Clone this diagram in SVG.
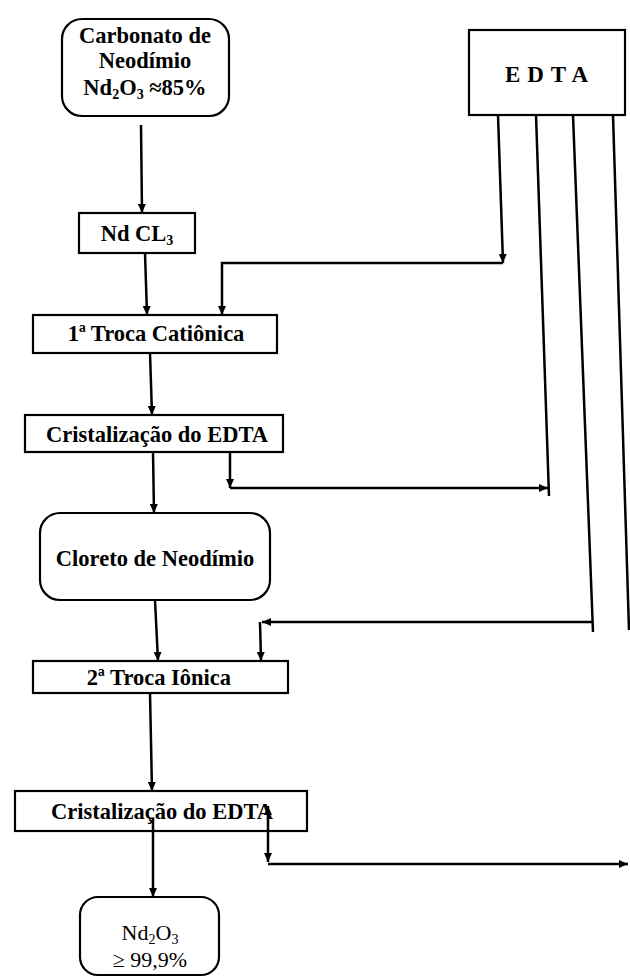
<svg xmlns="http://www.w3.org/2000/svg" width="630" height="978" viewBox="0 0 630 978">
  <style>
    .box { fill: #fff; stroke: #000; stroke-width: 2.2; }
    .lbl { font-family: "Liberation Serif", "Times New Roman", serif; font-weight: bold; font-size: 22.5px; fill: #000; text-anchor: middle; }
    .edta { font-family: "Liberation Serif", "Times New Roman", serif; font-weight: bold; font-size: 23px; fill: #000; text-anchor: middle; letter-spacing: 7px; }
    .reg { font-family: "Liberation Serif", "Times New Roman", serif; font-size: 22px; fill: #000; text-anchor: middle; }
    .wire { fill: none; stroke: #000; stroke-width: 2.5; }
  </style>
  <defs>
    <marker id="arrow" markerUnits="userSpaceOnUse" markerWidth="9" markerHeight="8" refX="9" refY="4" orient="auto-start-reverse">
      <path d="M0,0 L9,4 L0,8 z" fill="#000"/>
    </marker>
  </defs>

  <rect width="630" height="978" fill="#fff"/>

  <!-- process nodes -->
  <g id="carbonato">
    <rect class="box" x="62" y="19" width="167" height="97" rx="20"/>
    <text class="lbl" x="145" y="43">Carbonato de</text>
    <text class="lbl" x="145" y="68">Neodímio</text>
    <text class="lbl" x="145" y="95">Nd<tspan font-size="14" dy="4">2</tspan><tspan dy="-4">O</tspan><tspan font-size="14" dy="4">3</tspan><tspan dy="-4"> ≈85%</tspan></text>
  </g>

  <g id="edta">
    <rect class="box" x="469" y="30" width="156" height="85"/>
    <text class="edta" x="550" y="82">EDTA</text>
  </g>

  <g id="ndcl3">
    <rect class="box" x="79" y="213" width="116" height="40"/>
    <text class="lbl" x="137" y="241">Nd CL<tspan font-size="14" dy="4">3</tspan></text>
  </g>

  <g id="troca1">
    <rect class="box" x="33" y="315" width="244" height="38"/>
    <text class="lbl" x="156" y="341">1ª Troca Catiônica</text>
  </g>

  <g id="cristal1">
    <rect class="box" x="25" y="415" width="258" height="37"/>
    <text class="lbl" x="157" y="442">Cristalização do EDTA</text>
  </g>

  <g id="cloreto">
    <rect class="box" x="40" y="513" width="230" height="87" rx="20"/>
    <text class="lbl" x="155" y="566">Cloreto de Neodímio</text>
  </g>

  <g id="troca2">
    <rect class="box" x="33" y="661" width="255" height="32"/>
    <text class="lbl" x="159" y="685">2ª Troca Iônica</text>
  </g>

  <g id="cristal2">
    <rect class="box" x="15" y="791" width="292" height="40"/>
    <text class="lbl" x="162" y="819">Cristalização do EDTA</text>
  </g>

  <g id="produto">
    <rect class="box" x="80" y="897" width="139" height="78" rx="18"/>
    <text class="reg" x="150" y="940">Nd<tspan font-size="14" dy="4">2</tspan><tspan dy="-4">O</tspan><tspan font-size="14" dy="4">3</tspan></text>
    <text class="reg" x="150" y="967">≥ 99,9%</text>
  </g>

  <!-- connectors -->
  <g id="connectors">
    <!-- main chain -->
    <path class="wire" d="M141,125 L142,213" marker-end="url(#arrow)"/>
    <path class="wire" d="M145,253 L147,315" marker-end="url(#arrow)"/>
    <path class="wire" d="M150,353 L152,415" marker-end="url(#arrow)"/>
    <path class="wire" d="M153,452 L154,513" marker-end="url(#arrow)"/>
    <path class="wire" d="M155,600 L158,661" marker-end="url(#arrow)"/>
    <path class="wire" d="M150,693 L152,791" marker-end="url(#arrow)"/>
    <path class="wire" d="M153,818 L153,897" marker-end="url(#arrow)"/>

    <!-- EDTA supply lines -->
    <path class="wire" d="M498,115 L503,263" marker-end="url(#arrow)"/>
    <path class="wire" d="M503,263 H222 V315" marker-end="url(#arrow)"/>
    <path class="wire" d="M536,115 L549,496"/>
    <path class="wire" d="M573,115 L593,632"/>
    <path class="wire" d="M613,115 L629,630"/>

    <!-- EDTA return from first crystallization -->
    <path class="wire" d="M230,452 L230,488" marker-end="url(#arrow)"/>
    <path class="wire" d="M230,488 H548" marker-end="url(#arrow)"/>

    <!-- EDTA feed to second exchange -->
    <path class="wire" d="M593,622 H262" marker-end="url(#arrow)"/>
    <path class="wire" d="M260,622 L261,661" marker-end="url(#arrow)"/>

    <!-- EDTA return from second crystallization -->
    <path class="wire" d="M268,806 L268,862" marker-start="url(#arrow)" marker-end="url(#arrow)"/>
    <path class="wire" d="M268,864 H628" marker-end="url(#arrow)"/>
  </g>
</svg>
